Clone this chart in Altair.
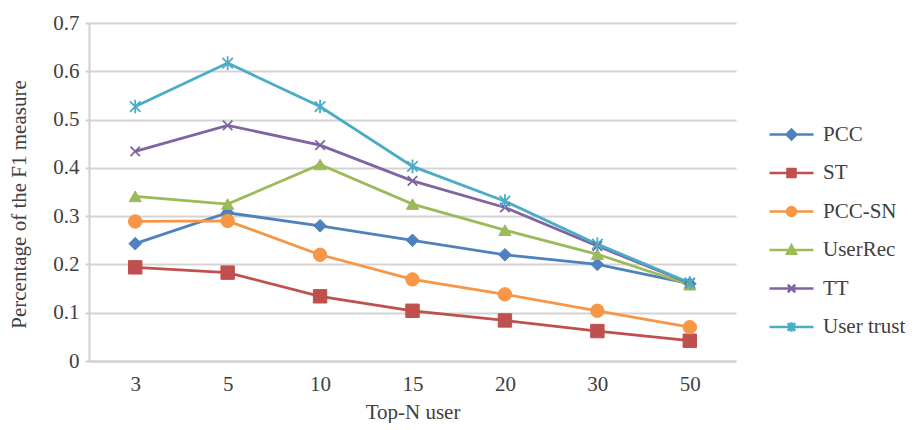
import altair as alt
import pandas as pd

top_n = ["3", "5", "10", "15", "20", "30", "50"]
series_names = ["PCC", "ST", "PCC-SN", "UserRec", "TT", "User trust"]
pcc = [0.243, 0.307, 0.280, 0.250, 0.220, 0.200, 0.160]
st = [0.194, 0.183, 0.134, 0.104, 0.084, 0.062, 0.042]
pcc_sn = [0.289, 0.290, 0.220, 0.169, 0.138, 0.104, 0.070]
userrec = [0.341, 0.325, 0.407, 0.325, 0.271, 0.221, 0.158]
tt = [0.434, 0.488, 0.447, 0.373, 0.318, 0.238, 0.161]
user_trust = [0.527, 0.617, 0.527, 0.403, 0.331, 0.242, 0.162]
y_ticks = [0, 0.1, 0.2, 0.3, 0.4, 0.5, 0.6, 0.7]

colors = ["#4F81BD", "#C0504D", "#F79646", "#9BBB59", "#8064A2", "#4BACC6"]

X_PATH = "M-1,-1L1,1M-1,1L1,-1"
STAR_PATH = "M-1,-1L1,1M-1,1L1,-1M0,-1.3L0,1.3"
marker_shapes = ["diamond", "square", "circle", "triangle-up", X_PATH, STAR_PATH]
marker_filled = [True, True, True, True, False, False]
marker_sizes = [160, 180, 180, 150, 90, 110]

legend_shapes = [
    "M-1,0H1M0,-0.22L0.22,0L0,0.22L-0.22,0Z",
    "M-1,0H1M-0.18,-0.18H0.18V0.18H-0.18Z",
    "M-1,0H1M0.2,0A0.2,0.2,0,1,1,-0.2,0A0.2,0.2,0,1,1,0.2,0Z",
    "M-1,0H1M0,-0.2L0.2,0.17H-0.2Z",
    "M-1,0H1M-0.17,-0.17L0.17,0.17M-0.17,0.17L0.17,-0.17",
    "M-1,0H1M-0.17,-0.17L0.17,0.17M-0.17,0.17L0.17,-0.17M0,-0.22V0.22",
]

all_vals = [pcc, st, pcc_sn, userrec, tt, user_trust]
rows = []
for name, vals in zip(series_names, all_vals):
    for n, v in zip(top_n, vals):
        rows.append({"series": name, "topn": n, "value": v})
df = pd.DataFrame(rows)

FONT = "Liberation Serif"
TXT = "#404040"

x_enc = alt.X(
    "topn:O",
    sort=top_n,
    scale=alt.Scale(type="point", padding=0.5),
    axis=alt.Axis(
        title="Top-N user",
        labelAngle=0,
        ticks=False,
        domainColor="#d0d0d0",
        domainWidth=2,
        labelPadding=12,
        titleY=51,
        titleBaseline="middle",
    ),
)
y_enc = alt.Y(
    "value:Q",
    scale=alt.Scale(domain=[0, 0.7], nice=False),
    axis=alt.Axis(
        title="Percentage of the F1 measure",
        values=y_ticks,
        labelExpr="datum.value == 0 ? '0' : format(datum.value, '.1f')",
        grid=True,
        gridColor="#d4d4d4",
        gridWidth=2,
        domainColor="#d0d0d0",
        domainWidth=2,
        tickColor="#d0d0d0",
        tickSize=4,
        tickWidth=2,
        labelPadding=6,
        titleX=-70,
        titleY=181,
        titleBaseline="middle",
        titleAngle=-90,
    ),
)

leg = dict(
    title=None,
    orient="none",
    legendX=679,
    legendY=88,
    labelFont=FONT,
    labelFontSize=21,
    labelColor=TXT,
    symbolSize=1936,
    symbolStrokeWidth=2.6,
    symbolOpacity=1,
    rowPadding=4.5,
    labelOffset=8,
)

color_scale = alt.Scale(domain=series_names, range=colors)

lines = alt.Chart(df).mark_line(strokeWidth=2.8).encode(
    x=x_enc,
    y=y_enc,
    color=alt.Color("series:N", scale=color_scale, legend=alt.Legend(**leg)),
    detail="series:N",
)

layers = [lines]
for name, col, shp, filled, sz in zip(series_names, colors, marker_shapes, marker_filled, marker_sizes):
    if filled:
        mk = alt.Chart(df).mark_point(shape=shp, filled=True, size=sz, opacity=1, color=col, stroke=col, strokeWidth=1)
    else:
        mk = alt.Chart(df).mark_point(shape=shp, filled=False, size=sz, opacity=1, color=col, strokeWidth=1.8)
    layers.append(mk.transform_filter(alt.datum.series == name).encode(x=x_enc, y=y_enc))

legend_layer = (
    alt.Chart(df)
    .transform_filter("datum.topn == 'none'")
    .mark_point(filled=True, size=1936)
    .encode(
        shape=alt.Shape("series:N", scale=alt.Scale(domain=series_names, range=legend_shapes), legend=alt.Legend(**leg)),
        fill=alt.Fill("series:N", scale=alt.Scale(domain=series_names, range=colors), legend=alt.Legend(**leg)),
        stroke=alt.Stroke("series:N", scale=alt.Scale(domain=series_names, range=colors), legend=alt.Legend(**leg)),
    )
)
layers.append(legend_layer)

chart = (
    alt.layer(*layers)
    .properties(
        width=647,
        height=338,
        autosize=alt.AutoSizeParams(type="none"),
        padding={"left": 81, "top": 15, "right": 170, "bottom": 62},
    )
    .configure_view(stroke=None)
    .configure_axis(
        labelFont=FONT,
        titleFont=FONT,
        labelFontSize=21,
        titleFontSize=21,
        labelColor=TXT,
        titleColor=TXT,
        titleFontWeight="normal",
    )
)

chart.save("out.html", embed_options={"renderer": "svg", "actions": False})
